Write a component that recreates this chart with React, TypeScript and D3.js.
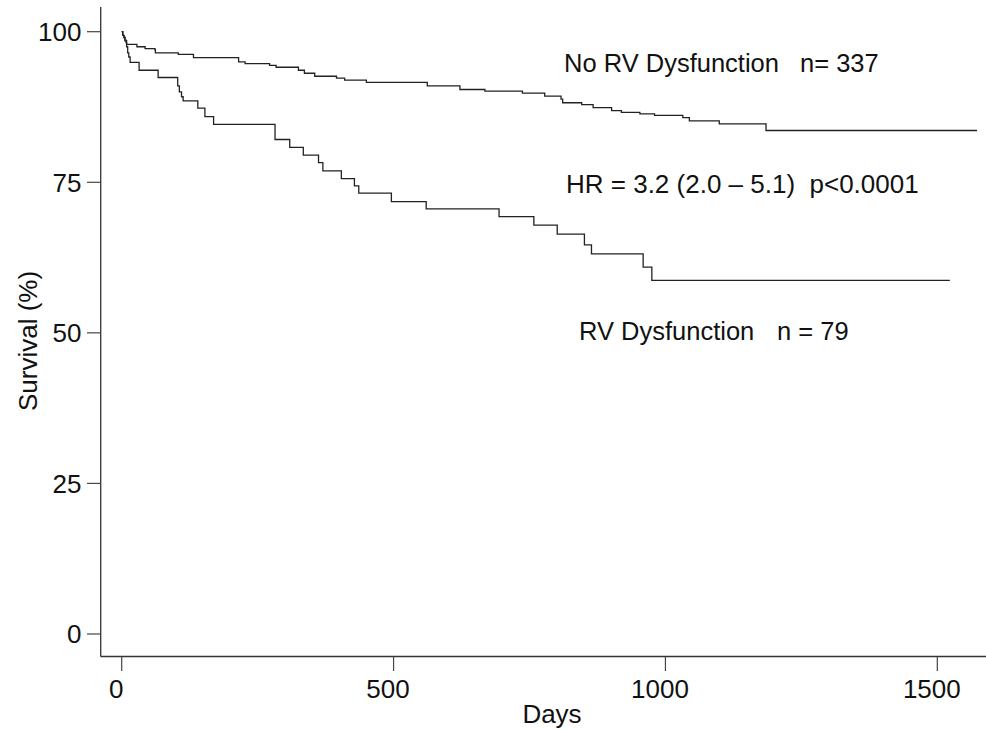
import React from "react";
import * as d3 from "d3";

// ---- Data ----
const xTicks = [0, 500, 1000, 1500];
const yTicks = [0, 25, 50, 75, 100];

// No RV dysfunction (n = 337): step-after survival curve
const noRvDays = [0, 2, 4, 6, 8, 9, 28, 43, 61, 62, 104, 132, 215, 227, 272, 284, 325, 336, 355, 395, 410, 450, 562, 622, 668, 737, 778, 808, 811, 846, 867, 901, 919, 953, 980, 1032, 1044, 1099, 1185, 1573];
const noRvSurv = [100, 99.4, 99.1, 98.6, 98.2, 97.9, 97.5, 97.2, 97.0, 96.5, 96.25, 95.7, 95.0, 94.7, 94.4, 94.1, 93.6, 93.1, 92.6, 92.3, 91.95, 91.6, 91.0, 90.4, 90.15, 89.8, 89.3, 88.8, 88.2, 87.9, 87.4, 86.9, 86.6, 86.35, 86.1, 85.75, 85.2, 84.7, 83.6, 83.6];

// RV dysfunction (n = 79)
const rvDays = [0, 2, 4, 6, 9, 11, 13, 15.5, 32, 67, 103, 106, 110, 113, 140, 153, 169, 282, 309, 334, 362, 370, 404, 428, 436, 496, 560, 694, 758, 801, 851, 864, 959, 975, 1523];
const rvSurv = [100, 99.4, 99.0, 98.5, 97.5, 96.5, 95.8, 94.9, 93.6, 92.4, 91.0, 90.0, 89.2, 88.5, 87.3, 85.9, 84.6, 82.1, 80.8, 79.5, 78.25, 76.9, 75.6, 74.4, 73.2, 71.8, 70.6, 69.3, 67.9, 66.4, 64.6, 63.1, 60.9, 58.7, 58.7];

const FONT = "'Liberation Sans', Arial, Helvetica, sans-serif";

export default function App() {
  const W = 986;
  const H = 729;
  const x = d3.scaleLinear().domain([0, 1500]).range([121.7, 937.3]);
  const y = d3.scaleLinear().domain([0, 100]).range([634, 31.7]);

  const axisX = 100.7;
  const axisY = 656.5;

  const line = d3
    .line<[number, number]>()
    .x((d) => x(d[0]))
    .y((d) => y(d[1]))
    .curve(d3.curveStepAfter);

  const noRv = noRvDays.map((d, i) => [d, noRvSurv[i]] as [number, number]);
  const rv = rvDays.map((d, i) => [d, rvSurv[i]] as [number, number]);

  return (
    <svg
      width={W}
      height={H}
      style={{ position: "absolute", left: 0, top: 0, background: "#fff" }}
      fontFamily={FONT}
    >
      <rect x={0} y={0} width={W} height={H} fill="#fff" />
      {/* axes */}
      <line x1={axisX} x2={axisX} y1={7} y2={axisY} stroke="#333" strokeWidth={1.3} />
      <line x1={axisX} x2={W} y1={axisY} y2={axisY} stroke="#333" strokeWidth={1.3} />
      {yTicks.map((t) => (
        <g key={"y" + t}>
          <line x1={87} x2={axisX} y1={y(t)} y2={y(t)} stroke="#444" strokeWidth={1.2} />
          <text x={81.5} y={y(t)} dy="0.36em" textAnchor="end" fontSize={26} fill="#111">
            {t}
          </text>
        </g>
      ))}
      {xTicks.map((t) => (
        <g key={"x" + t}>
          <line x1={x(t)} x2={x(t)} y1={axisY} y2={671} stroke="#444" strokeWidth={1.2} />
          <text x={x(t) - 5.5} y={698} textAnchor="middle" fontSize={26} fill="#111">
            {t}
          </text>
        </g>
      ))}
      <text x={552} y={723} textAnchor="middle" fontSize={26} fill="#111">
        Days
      </text>
      <text
        transform={`translate(37,341) rotate(-90)`}
        textAnchor="middle"
        fontSize={26}
        fill="#111"
      >
        Survival (%)
      </text>

      {/* curves */}
      <path d={line(noRv) || ""} fill="none" stroke="#222" strokeWidth={1.3} />
      <path d={line(rv) || ""} fill="none" stroke="#222" strokeWidth={1.3} />

      {/* annotations */}
      <text x={564} y={72} fontSize={25.5} fill="#111">No RV Dysfunction</text>
      <text x={800} y={72} fontSize={25.5} fill="#111">n= 337</text>
      <text x={566} y={193} fontSize={26} fill="#111" style={{ whiteSpace: "pre" }}>
        {"HR = 3.2 (2.0 \u2013 5.1)  p<0.0001"}
      </text>
      <text x={579} y={340} fontSize={25.5} fill="#111">RV Dysfunction</text>
      <text x={777} y={340} fontSize={25.5} fill="#111">n = 79</text>
    </svg>
  );
}
